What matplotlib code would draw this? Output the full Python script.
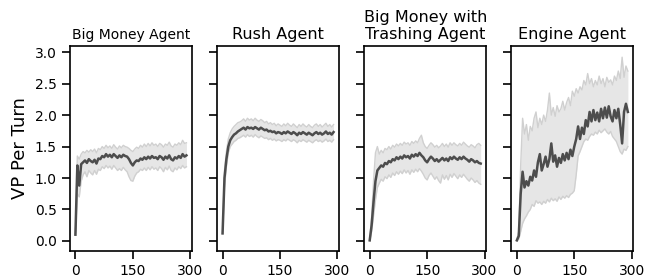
import matplotlib
matplotlib.use("Agg")
import matplotlib.pyplot as plt
import numpy as np

# ---Data (VP per turn, every 5th turn)---

turns = np.arange(0, 295, 5)

titles = ["Big Money Agent", "Rush Agent", "Big Money with\nTrashing Agent", "Engine Agent"]

bm_mean = [0.10, 1.20, 0.88, 1.22, 1.25, 1.28, 1.24, 1.30, 1.27, 1.25, 1.29, 1.23, 1.31, 1.30, 1.35,
           1.33, 1.38, 1.34, 1.37, 1.33, 1.38, 1.35, 1.32, 1.36, 1.33, 1.37, 1.35, 1.34, 1.30, 1.24,
           1.20, 1.25, 1.28, 1.27, 1.31, 1.29, 1.33, 1.30, 1.34, 1.31, 1.35, 1.32, 1.33, 1.30, 1.35,
           1.33, 1.29, 1.34, 1.31, 1.36, 1.30, 1.28, 1.33, 1.31, 1.35, 1.32, 1.38, 1.34, 1.36]
bm_low = [0.10, 0.75, 0.70, 0.95, 1.05, 1.10, 1.02, 1.12, 1.08, 1.05, 1.12, 1.06, 1.14, 1.12, 1.18,
          1.15, 1.20, 1.16, 1.19, 1.14, 1.20, 1.16, 1.12, 1.15, 1.12, 1.17, 1.13, 1.10, 1.02, 0.96,
          0.95, 1.03, 1.08, 1.10, 1.14, 1.12, 1.16, 1.12, 1.17, 1.13, 1.18, 1.14, 1.16, 1.12, 1.18,
          1.15, 1.10, 1.17, 1.13, 1.19, 1.12, 1.10, 1.16, 1.13, 1.18, 1.15, 1.20, 1.16, 1.18]
bm_high = [0.10, 1.35, 1.30, 1.38, 1.42, 1.40, 1.44, 1.41, 1.45, 1.42, 1.46, 1.40, 1.47, 1.45, 1.50,
           1.47, 1.52, 1.48, 1.51, 1.47, 1.53, 1.49, 1.46, 1.51, 1.48, 1.52, 1.50, 1.49, 1.47, 1.44,
           1.42, 1.46, 1.49, 1.47, 1.52, 1.49, 1.54, 1.50, 1.55, 1.51, 1.56, 1.52, 1.54, 1.50, 1.55,
           1.53, 1.49, 1.54, 1.52, 1.57, 1.51, 1.49, 1.54, 1.52, 1.56, 1.53, 1.60, 1.55, 1.56]

rush_mean = [0.12, 1.00, 1.30, 1.50, 1.60, 1.65, 1.69, 1.71, 1.74, 1.76, 1.78, 1.80, 1.77, 1.81, 1.79,
             1.80, 1.78, 1.81, 1.79, 1.77, 1.80, 1.78, 1.76, 1.77, 1.74, 1.75, 1.73, 1.74, 1.71, 1.73,
             1.72, 1.70, 1.73, 1.71, 1.74, 1.72, 1.70, 1.73, 1.71, 1.68, 1.72, 1.70, 1.73, 1.71, 1.69,
             1.72, 1.70, 1.68, 1.71, 1.73, 1.70, 1.72, 1.69, 1.71, 1.74, 1.70, 1.72, 1.69, 1.73]
rush_low = [0.12, 0.85, 1.18, 1.40, 1.50, 1.54, 1.58, 1.60, 1.63, 1.64, 1.66, 1.68, 1.65, 1.69, 1.66,
            1.68, 1.65, 1.69, 1.66, 1.64, 1.67, 1.65, 1.63, 1.64, 1.61, 1.63, 1.60, 1.62, 1.59, 1.61,
            1.60, 1.58, 1.61, 1.59, 1.62, 1.60, 1.58, 1.61, 1.59, 1.56, 1.60, 1.58, 1.61, 1.59, 1.57,
            1.60, 1.58, 1.56, 1.59, 1.61, 1.58, 1.60, 1.57, 1.59, 1.62, 1.58, 1.60, 1.57, 1.61]
rush_high = [0.12, 1.12, 1.42, 1.62, 1.72, 1.78, 1.82, 1.85, 1.88, 1.89, 1.91, 1.94, 1.90, 1.95, 1.92,
             1.94, 1.91, 1.95, 1.92, 1.90, 1.93, 1.91, 1.88, 1.90, 1.86, 1.88, 1.85, 1.87, 1.83, 1.86,
             1.84, 1.82, 1.86, 1.83, 1.87, 1.84, 1.82, 1.86, 1.83, 1.80, 1.85, 1.82, 1.86, 1.83, 1.81,
             1.85, 1.82, 1.80, 1.84, 1.86, 1.82, 1.85, 1.81, 1.84, 1.87, 1.82, 1.85, 1.81, 1.85]

bmt_mean = [0.01, 0.25, 0.62, 0.95, 1.12, 1.16, 1.20, 1.18, 1.24, 1.22, 1.27, 1.25, 1.30, 1.28, 1.33,
            1.30, 1.34, 1.31, 1.36, 1.33, 1.35, 1.31, 1.37, 1.34, 1.38, 1.35, 1.40, 1.36, 1.33, 1.28,
            1.25, 1.30, 1.34, 1.31, 1.27, 1.30, 1.26, 1.29, 1.32, 1.28, 1.31, 1.27, 1.33, 1.30, 1.34,
            1.31, 1.29, 1.33, 1.30, 1.34, 1.31, 1.29, 1.26, 1.30, 1.28, 1.25, 1.27, 1.24, 1.23]
bmt_low = [0.00, 0.15, 0.40, 0.65, 0.85, 0.92, 0.98, 0.95, 1.02, 0.99, 1.05, 1.01, 1.08, 1.04, 1.10,
           1.06, 1.11, 1.07, 1.13, 1.08, 1.12, 1.06, 1.13, 1.09, 1.14, 1.10, 1.15, 1.11, 1.06, 1.00,
           0.97, 1.04, 1.08, 1.03, 0.98, 1.02, 0.96, 0.92, 1.05, 0.98, 1.04, 0.97, 1.06, 1.01, 1.07,
           1.03, 0.99, 1.05, 1.01, 1.06, 1.02, 0.98, 0.95, 1.00, 0.97, 0.93, 0.96, 0.92, 0.90]
bmt_high = [0.02, 0.38, 0.95, 1.40, 1.50, 1.38, 1.44, 1.40, 1.47, 1.45, 1.50, 1.46, 1.52, 1.49, 1.54,
            1.51, 1.55, 1.52, 1.57, 1.54, 1.56, 1.52, 1.58, 1.55, 1.59, 1.56, 1.63, 1.68, 1.56, 1.50,
            1.47, 1.52, 1.56, 1.53, 1.49, 1.52, 1.48, 1.51, 1.55, 1.50, 1.54, 1.49, 1.56, 1.52, 1.56,
            1.53, 1.51, 1.55, 1.52, 1.57, 1.54, 1.51, 1.49, 1.53, 1.51, 1.48, 1.53, 1.55, 1.52]

eng_mean = [0.01, 0.08, 0.75, 1.10, 0.85, 0.95, 0.88, 1.02, 0.96, 1.12, 1.02, 1.25, 1.38, 1.12, 1.22,
            1.34, 1.18, 1.30, 1.55, 1.26, 1.36, 1.18, 1.32, 1.24, 1.38, 1.28, 1.40, 1.30, 1.45, 1.35,
            1.50, 1.62, 1.82, 1.62, 1.80, 1.70, 1.92, 1.82, 2.05, 1.90, 2.08, 1.92, 2.04, 1.90, 2.10,
            1.95, 2.12, 1.96, 2.14, 1.98, 1.90, 2.08, 1.95, 2.10, 1.85, 1.55, 2.05, 2.18, 2.05]
eng_low = [0.00, 0.03, 0.15, 0.28, 0.35, 0.40, 0.46, 0.50, 0.58, 0.55, 0.64, 0.60, 0.62, 0.58, 0.63,
           0.60, 0.66, 0.62, 0.68, 0.64, 0.67, 0.63, 0.70, 0.66, 0.71, 0.68, 0.72, 0.69, 0.74, 0.76,
           0.80, 1.05, 1.35, 1.42, 1.50, 1.58, 1.62, 1.60, 1.66, 1.70, 1.68, 1.73, 1.70, 1.76, 1.72,
           1.75, 1.78, 1.73, 1.70, 1.74, 1.66, 1.62, 1.58, 1.50, 1.42, 1.38, 1.46, 1.44, 1.50]
eng_high = [0.03, 0.15, 1.20, 1.95, 1.70, 1.85, 1.60, 1.82, 1.75, 1.95, 2.05, 1.80, 1.95, 1.85, 2.00,
            1.90, 2.08, 2.35, 2.00, 2.12, 1.98, 2.15, 2.05, 2.10, 2.22, 2.08, 2.20, 2.28, 2.15, 2.38,
            2.30, 2.42, 2.35, 2.45, 2.40, 2.55, 2.48, 2.66, 2.50, 2.58, 2.45, 2.55, 2.48, 2.62, 2.50,
            2.58, 2.45, 2.60, 2.52, 2.56, 2.48, 2.62, 2.55, 2.70, 2.58, 2.92, 2.60, 2.78, 2.70]

means = [bm_mean, rush_mean, bmt_mean, eng_mean]
lows = [bm_low, rush_low, bmt_low, eng_low]
highs = [bm_high, rush_high, bmt_high, eng_high]

# ---Plot---

fig, axes = plt.subplots(1, 4, sharey=True, figsize=(6.47, 2.78), dpi=100)
fig.subplots_adjust(left=0.108, right=0.979, bottom=0.097, top=0.835, wspace=0.205)

for i, ax in enumerate(axes):
    ax.fill_between(turns, lows[i], highs[i], color='#e6e6e6', linewidth=0)
    ax.plot(turns, lows[i], color='#d0d0d0', linewidth=1)
    ax.plot(turns, highs[i], color='#d0d0d0', linewidth=1)
    ax.plot(turns, means[i], color='#4d4d4d', linewidth=1.8)
    ax.set_title(titles[i], fontsize=10 if i == 0 else 11.5, pad=5)
    ax.set_xticks([0, 150, 300])
    ax.set_xlim(-14.5, 304.5)
    ax.tick_params(labelsize=10, length=6, width=1.2)
    for s in ax.spines.values():
        s.set_linewidth(1.2)

axes[0].set_ylim(-0.16, 3.1)
axes[0].set_yticks([0.0, 0.5, 1.0, 1.5, 2.0, 2.5, 3.0])
axes[0].set_ylabel('VP Per Turn', fontsize=13)

plt.savefig('out.png', dpi=100)
